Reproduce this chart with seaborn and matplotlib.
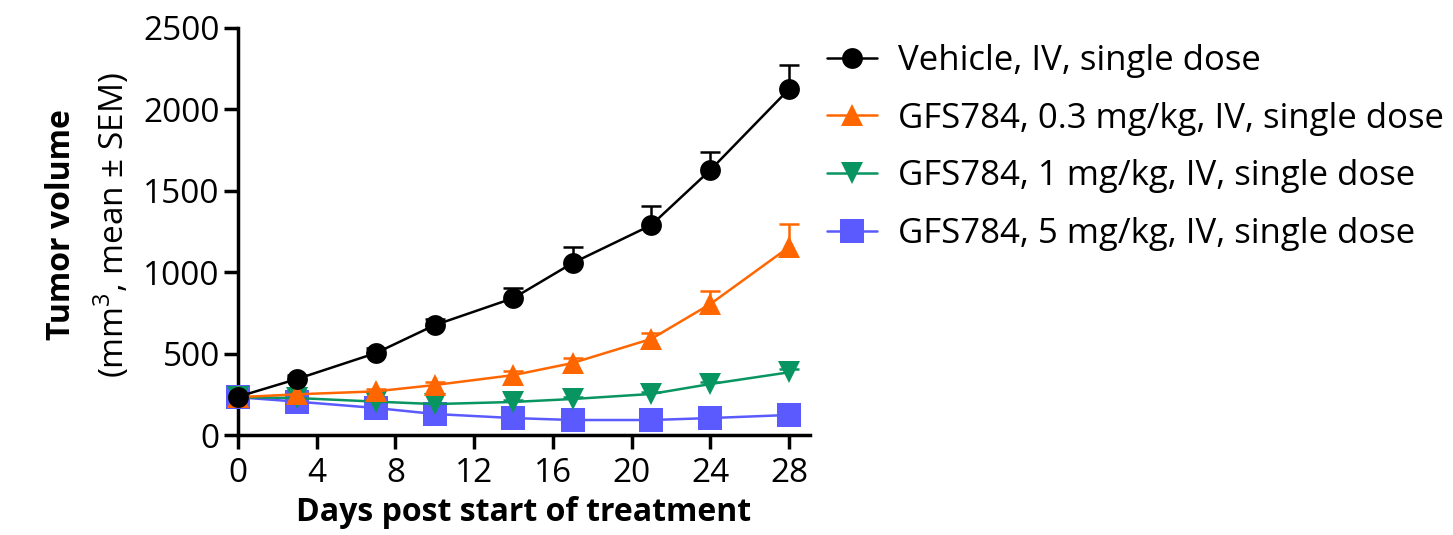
import matplotlib
matplotlib.use("Agg")
import matplotlib.pyplot as plt
from matplotlib.lines import Line2D
import seaborn as sns
import pandas as pd
import numpy as np

sns.set_theme(style="ticks")
plt.rcParams['font.family'] = ['Open Sans', 'DejaVu Sans']
plt.rcParams['text.color'] = 'black'
plt.rcParams['axes.labelcolor'] = 'black'
plt.rcParams['mathtext.fontset'] = 'custom'
plt.rcParams['mathtext.rm'] = 'Open Sans'

days = [0, 3, 7, 10, 14, 17, 21, 24, 28]

vehicle_mean = [235, 344, 503, 675, 841, 1056, 1289, 1627, 2124]
vehicle_sem = [15, 25, 30, 35, 60, 98, 117, 110, 148]

gfs_03_mean = [232, 250, 268, 307, 368, 442, 590, 804, 1154]
gfs_03_sem = [10, 12, 15, 20, 25, 30, 35, 80, 142]

gfs_1_mean = [232, 227, 205, 190, 203, 221, 252, 313, 385]
gfs_1_sem = [8, 8, 8, 8, 10, 10, 12, 15, 18]

gfs_5_mean = [232, 205, 166, 129, 104, 92, 92, 104, 123]
gfs_5_sem = [8, 8, 8, 6, 6, 5, 5, 6, 6]

labels = [
    "Vehicle, IV, single dose",
    "GFS784, 0.3 mg/kg, IV, single dose",
    "GFS784, 1 mg/kg, IV, single dose",
    "GFS784, 5 mg/kg, IV, single dose",
]
colors = ["#000000", "#FF6600", "#099561", "#5A5AFF"]
markers = ["o", "^", "v", "s"]
marker_sizes = [15, 16, 16, 17]
means = [vehicle_mean, gfs_03_mean, gfs_1_mean, gfs_5_mean]
sems = [vehicle_sem, gfs_03_sem, gfs_1_sem, gfs_5_sem]

frames = []
for lab, m, s in zip(labels, means, sems):
    frames.append(pd.DataFrame({"day": days, "volume": m, "sem": s, "group": lab}))
df = pd.concat(frames, ignore_index=True)

fig = plt.figure(figsize=(14.53, 5.35), dpi=100)
ax = fig.add_axes([238 / 1453, 100 / 535, (810 - 238) / 1453, (435 - 28) / 535])

# Upward error bars (mean + SEM); vehicle drawn last so it sits on top
for lab, col in list(zip(labels, colors))[::-1]:
    sub = df[df["group"] == lab]
    _, caps, _ = ax.errorbar(sub["day"], sub["volume"],
                             yerr=[np.zeros(len(sub)), sub["sem"]],
                             fmt="none", ecolor=col, elinewidth=1.8, capsize=7.5,
                             capthick=1.8, clip_on=False, zorder=2)
    caps[0].set_visible(False)

# One seaborn line per group, so each marker can have its own size
for lab, col, mk, ms in list(zip(labels, colors, markers, marker_sizes))[::-1]:
    sns.lineplot(data=df[df["group"] == lab], x="day", y="volume",
                 color=col, marker=mk, markersize=ms, markeredgewidth=0,
                 linewidth=1.8, ax=ax, legend=False, zorder=3)

for line in ax.lines:
    line.set_clip_on(False)

ax.set_xlim(0, 29.07)
ax.set_ylim(0, 2500)
ax.set_xticks([0, 4, 8, 12, 16, 20, 24, 28])
ax.set_yticks([0, 500, 1000, 1500, 2000, 2500])
ax.tick_params(axis="both", which="major", labelsize=24, width=2.5, length=10,
               color="black", labelcolor="black", pad=3)
ax.tick_params(axis="x", which="major", pad=6)
sns.despine(ax=ax)
for side in ["left", "bottom"]:
    ax.spines[side].set_linewidth(2.5)
    ax.spines[side].set_color("black")

ax.set_xlabel("Days post start of treatment", fontsize=23, fontweight="bold",
              labelpad=4, color="black")
ax.set_ylabel("")
fig.text(62 / 1453, 1 - 225 / 535, "Tumor volume", rotation=90,
         fontsize=23, fontweight="bold", ha="center", va="center")
fig.text(112 / 1453, 1 - 225 / 535, "(mm$^3$, mean ± SEM)", rotation=90,
         fontsize=24, ha="center", va="center")

# Legend
handles = [Line2D([0], [0], color=c, marker=m, markersize=s, markeredgewidth=0,
                  linewidth=1.8) for c, m, s in zip(colors, markers, marker_sizes)]
fig.legend(handles, labels, loc="upper left", bbox_to_anchor=(827 / 1453, 1 - 44 / 535),
           frameon=False, fontsize=25, handlelength=1.45, handletextpad=0.6,
           labelspacing=0.68, borderaxespad=0, borderpad=0)

fig.savefig("out.png", dpi=100)
